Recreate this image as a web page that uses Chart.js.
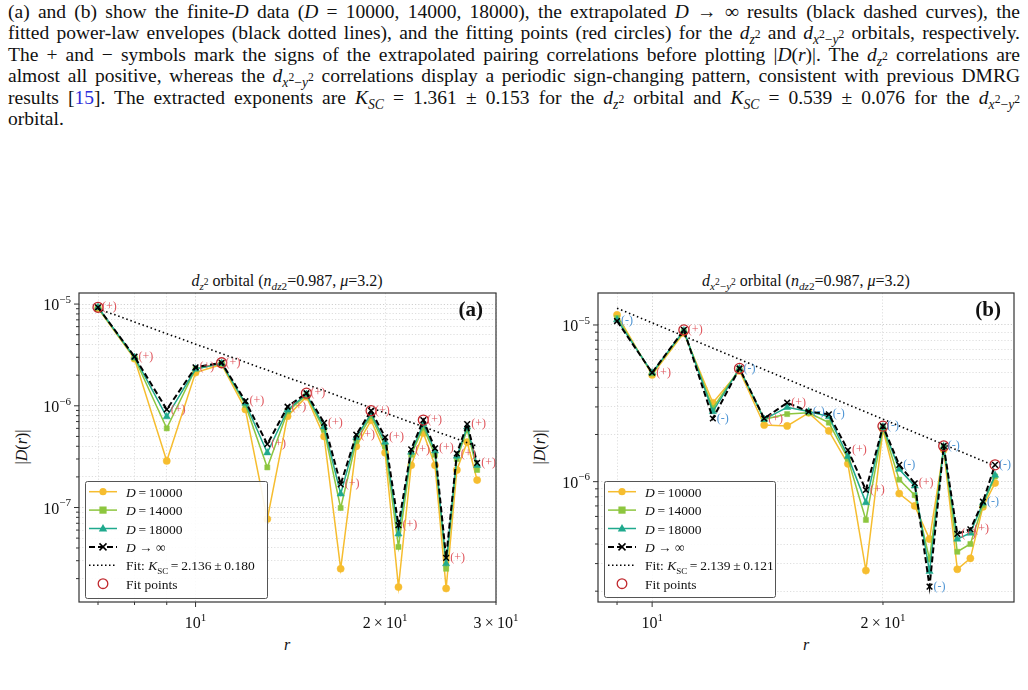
<!DOCTYPE html>
<html>
<head>
<meta charset="utf-8">
<script src="https://cdn.jsdelivr.net/npm/chart.js@4.4.1/dist/chart.umd.min.js"></script>
<style>
  body { margin: 0; background: #fff; width: 1028px; height: 690px; position: relative; overflow: hidden;
         font-family: 'Liberation Serif', 'Times New Roman', serif; color: #111; }
  #caption { position: absolute; left: 8px; top: 1px; width: 1012px; font-size: 19.5px; line-height: 21.4px; }
  #caption div { white-space: nowrap; text-align: justify; text-align-last: justify; }
  #caption div.last { text-align-last: left; }
  sub, sup { line-height: 0; font-size: 70%; }
  sub sup, sup sub { font-size: 85%; }
  .cv { position: absolute; top: 250px; }
  .ttl { position: absolute; top: 271px; width: 400px; text-align: center; font-size: 16px; line-height: 20px; white-space: nowrap; }
  .ylab { position: absolute; top: 437px; width: 80px; text-align: center; font-size: 16px; line-height: 20px; transform: rotate(-90deg); }
  .xlab { position: absolute; top: 635px; width: 40px; text-align: center; font-size: 16px; line-height: 20px; }
  .cite { color: #2b2bd9; }
</style>
</head>
<body>
<div id="caption">
  <div>(a) and (b) show the finite-<i>D</i> data (<i>D</i> = 10000, 14000, 18000), the extrapolated <i>D</i> → ∞ results (black dashed curves), the</div>
  <div>fitted power-law envelopes (black dotted lines), and the fitting points (red circles) for the <i>d</i><sub><i>z</i><sup>2</sup></sub> and <i>d</i><sub><i>x</i><sup>2</sup>−<i>y</i><sup>2</sup></sub> orbitals, respectively.</div>
  <div>The + and − symbols mark the signs of the extrapolated pairing correlations before plotting |<i>D</i>(<i>r</i>)|. The <i>d</i><sub><i>z</i><sup>2</sup></sub> correlations are</div>
  <div>almost all positive, whereas the <i>d</i><sub><i>x</i><sup>2</sup>−<i>y</i><sup>2</sup></sub> correlations display a periodic sign-changing pattern, consistent with previous DMRG</div>
  <div>results [<span class="cite">15</span>]. The extracted exponents are <i>K</i><sub><i>SC</i></sub> = 1.361 ± 0.153 for the <i>d</i><sub><i>z</i><sup>2</sup></sub> orbital and <i>K</i><sub><i>SC</i></sub> = 0.539 ± 0.076 for the <i>d</i><sub><i>x</i><sup>2</sup>−<i>y</i><sup>2</sup></sub></div>
  <div class="last">orbital.</div>
</div>

<div class="ttl" style="left:87px"><i>d</i><sub><i>z</i><sup>2</sup></sub> orbital (<i>n</i><sub><i>dz</i>2</sub>=0.987, <i>μ</i>=3.2)</div>
<div class="ttl" style="left:606px"><i>d</i><sub><i>x</i><sup>2</sup>−<i>y</i><sup>2</sup></sub> orbital (<i>n</i><sub><i>dz</i>2</sub>=0.987, <i>μ</i>=3.2)</div>
<div class="ylab" style="left:-18px">|<i>D</i>(<i>r</i>)|</div>
<div class="ylab" style="left:500px">|<i>D</i>(<i>r</i>)|</div>
<div class="xlab" style="left:267px"><i>r</i></div>
<div class="xlab" style="left:786px"><i>r</i></div>

<canvas id="chartA" class="cv" style="left:0px" width="540" height="400"></canvas>
<canvas id="chartB" class="cv" style="left:514px" width="514" height="400"></canvas>

<script>
const FONT = "'Liberation Serif', 'Times New Roman', serif";
const C10 = '#f6bd2f', C14 = '#8dc63f', C18 = '#1fa98d';
const FIT_RED = '#c0282d', SIGN_RED = '#e0555c', SIGN_BLUE = '#4d94d4';
const TS = '\u2009'; // espace fine

// ---- panel (a): d_z2 ----
const rA = [7, 8, 9, 10, 11, 12, 13, 14, 15, 16, 17, 18, 19, 20, 21, 22, 23, 24, 25, 26, 27, 28];
const a10000 = [9.1e-6, 2.9e-6, 2.87e-7, 2.12e-6, 2.55e-6, 9.2e-7, 7.7e-8, 7.9e-7, 1.23e-6, 5.0e-7, 2.5e-8,
                4.0e-7, 7.2e-7, 3.46e-7, 1.65e-8, 2.6e-7, 5.4e-7, 2.6e-7, 1.6e-8, 2.34e-7, 4.4e-7, 1.86e-7];
const a14000 = [9.2e-6, 2.95e-6, 6.0e-7, 2.3e-6, 2.6e-6, 1.02e-6, 2.48e-7, 8.8e-7, 1.27e-6, 5.8e-7, 9.9e-8,
                4.5e-7, 7.9e-7, 4.0e-7, 4.1e-8, 3.3e-7, 6.1e-7, 3.3e-7, 2.5e-8, 3.0e-7, 5.8e-7, 2.34e-7];
const a18000 = [9.3e-6, 3.0e-6, 7.8e-7, 2.3e-6, 2.62e-6, 1.06e-6, 3.45e-7, 9.1e-7, 1.3e-6, 6.2e-7, 1.36e-7,
                4.9e-7, 8.4e-7, 4.4e-7, 5.5e-8, 3.5e-7, 6.6e-7, 3.6e-7, 2.8e-8, 3.2e-7, 6.2e-7, 2.6e-7];
const aInf   = [9.3e-6, 3.04e-6, 9.2e-7, 2.39e-6, 2.65e-6, 1.11e-6, 4.2e-7, 9.8e-7, 1.33e-6, 6.8e-7, 1.69e-7,
                5.2e-7, 8.95e-7, 4.9e-7, 6.7e-8, 3.73e-7, 7.24e-7, 3.82e-7, 3.2e-8, 3.4e-7, 6.6e-7, 2.75e-7];
const aSigns = ['+', '+', '+', '+', '+', '+', '+', '+', '+', '+', '+', '+', '+', '+', '+', '+', '+', '+', '+', '+', '+', '+'];
const aFitR = [7, 11, 15, 19, 23];
const aFitLineR = [7, 28];
const aFitLineD = [9.0e-6, 4.0e-7];
const aXMajor = [10, 20, 30];
const aXLabels = ['10^{1}', '2' + TS + '×' + TS + '10^{1}', '3' + TS + '×' + TS + '10^{1}'];
const aXMinor = [7, 8, 9];
const aYMajor = [1e-7, 1e-6, 1e-5];
const aYLabels = ['10^{−7}', '10^{−6}', '10^{−5}'];
const aFitText = '2.136' + TS + '±' + TS + '0.180';

// ---- panel (b): d_x2-y2 ----
const rB = [9, 10, 11, 12, 13, 14, 15, 16, 17, 18, 19, 20, 21, 22, 23, 24, 25, 26, 27, 28];
const b10000 = [1.16e-5, 4.8e-6, 8.9e-6, 3.19e-6, 5.1e-6, 2.3e-6, 2.27e-6, 2.75e-6, 2.11e-6, 1.3e-6,
                2.71e-7, 2.15e-6, 8.4e-7, 7.0e-7, 4.3e-7, 1.6e-6, 2.76e-7, 3.24e-7, 6.9e-7, 9.8e-7];
const b14000 = [1.11e-5, 4.9e-6, 9.1e-6, 2.94e-6, 5.25e-6, 2.5e-6, 2.7e-6, 2.75e-6, 2.38e-6, 1.4e-6,
                5.7e-7, 2.2e-6, 1.03e-6, 8.2e-7, 3.2e-7, 1.66e-6, 3.57e-7, 4.0e-7, 7.1e-7, 1.08e-6];
const b18000 = [1.08e-5, 4.96e-6, 9.2e-6, 2.8e-6, 5.28e-6, 2.5e-6, 2.98e-6, 2.8e-6, 2.6e-6, 1.45e-6,
                7.35e-7, 2.24e-6, 1.2e-6, 9.4e-7, 2.67e-7, 1.67e-6, 4.3e-7, 4.7e-7, 7.3e-7, 1.1e-6];
const bInf   = [1.06e-5, 4.96e-6, 9.3e-6, 2.53e-6, 5.28e-6, 2.53e-6, 3.19e-6, 2.8e-6, 2.69e-6, 1.59e-6,
                8.85e-7, 2.26e-6, 1.28e-6, 9.77e-7, 2.14e-7, 1.69e-6, 4.64e-7, 4.97e-7, 7.45e-7, 1.28e-6];
const bSigns = ['-', '+', '+', '-', '-', '+', '+', '-', '-', '+', '+', '-', '-', '+', '-', '-', '+', '+', '-', '-'];
const bFitR = [11, 13, 20, 24, 28];
const bFitLineR = [9, 28];
const bFitLineD = [1.28e-5, 1.26e-6];
const bXMajor = [10, 20];
const bXLabels = ['10^{1}', '2' + TS + '×' + TS + '10^{1}'];
const bXMinor = [9];
const bYMajor = [1e-6, 1e-5];
const bYLabels = ['10^{−6}', '10^{−5}'];
const bFitText = '2.139' + TS + '±' + TS + '0.121';

// minor ticks on the log y axes (2..9 in every decade)
function minorTicks(decades) {
    const out = [];
    decades.forEach(d => { for (let k = 2; k <= 9; k++) out.push(k * d); });
    return out;
}

function pts(rs, vals) { return rs.map((r, i) => ({ x: r, y: vals[i] })); }

// texte enrichi: [texte, style] avec style r / i / sub / sup
function drawRich(ctx, parts, x, y, align, size) {
    const fontOf = s => (s === 'i' ? 'italic ' : '') + (s === 'sub' || s === 'sup' ? Math.round(size * 0.7) : size) + 'px ' + FONT;
    const dyOf = s => s === 'sub' ? size * 0.25 : (s === 'sup' ? -size * 0.45 : 0);
    let w = 0;
    parts.forEach(p => { ctx.font = fontOf(p[1]); w += ctx.measureText(p[0]).width; });
    let cx = align === 'right' ? x - w : (align === 'center' ? x - w / 2 : x);
    ctx.textAlign = 'left'; ctx.textBaseline = 'alphabetic';
    parts.forEach(p => { ctx.font = fontOf(p[1]); ctx.fillText(p[0], cx, y + dyOf(p[1])); cx += ctx.measureText(p[0]).width; });
}
function tickParts(lbl) {
    const m = lbl.match(/^(.*)\^\{(.*)\}$/);
    return m ? [[m[1], 'r'], [m[2], 'sup']] : [[lbl, 'r']];
}

function drawMarker(ctx, kind, x, y, color) {
    ctx.save();
    ctx.fillStyle = color; ctx.strokeStyle = color; ctx.setLineDash([]);
    if (kind === 'circle') { ctx.beginPath(); ctx.arc(x, y, 3.6, 0, Math.PI * 2); ctx.fill(); }
    else if (kind === 'rect') { ctx.fillRect(x - 3.6, y - 3.6, 7.2, 7.2); }
    else if (kind === 'triangle') { ctx.beginPath(); ctx.moveTo(x, y - 4.5); ctx.lineTo(x + 4.2, y + 3); ctx.lineTo(x - 4.2, y + 3); ctx.closePath(); ctx.fill(); }
    else if (kind === 'cross') { ctx.lineWidth = 1.5; ctx.beginPath(); ctx.moveTo(x - 3.5, y - 3.5); ctx.lineTo(x + 3.5, y + 3.5); ctx.moveTo(x + 3.5, y - 3.5); ctx.lineTo(x - 3.5, y + 3.5); ctx.stroke(); }
    else if (kind === 'ring') { ctx.lineWidth = 1.3; ctx.beginPath(); ctx.arc(x, y, 4.8, 0, Math.PI * 2); ctx.stroke(); }
    ctx.restore();
}

const decorPlugin = {
    id: 'decor',
    afterDatasetsDraw(chart, args, o) {
        const { ctx, scales: { x, y } } = chart;
        // signes (+)/(-) du D -> infini
        ctx.save();
        ctx.font = '12px ' + FONT; ctx.textBaseline = 'middle'; ctx.textAlign = 'left';
        o.r.forEach((r, i) => {
            ctx.fillStyle = o.signs[i] === '+' ? SIGN_RED : SIGN_BLUE;
            ctx.fillText(o.signs[i] === '+' ? '(+)' : '(-)', x.getPixelForValue(r) + 4, y.getPixelForValue(o.inf[i]));
        });
        ctx.restore();
    },
    afterDraw(chart, args, o) {
        const { ctx, chartArea: a, scales: { x, y } } = chart;
        ctx.save();
        // cadre
        ctx.strokeStyle = '#333'; ctx.lineWidth = 1.2;
        ctx.strokeRect(a.left, a.top, a.right - a.left, a.bottom - a.top);
        // ticks
        ctx.lineWidth = 1; ctx.strokeStyle = '#333'; ctx.fillStyle = '#111';
        const xt = o.xMajor.map((v, i) => ({ v, len: v === 10 ? 5 : 3, lbl: o.xLabels[i] }))
            .concat(o.xMinor.map(v => ({ v, len: 3 })));
        xt.forEach(t => {
            const px = x.getPixelForValue(t.v);
            ctx.beginPath(); ctx.moveTo(px, a.bottom); ctx.lineTo(px, a.bottom + t.len); ctx.stroke();
            if (t.lbl) drawRich(ctx, tickParts(t.lbl), px, a.bottom + 26, 'center', 16);
        });
        o.yMajor.forEach((v, i) => {
            const py = y.getPixelForValue(v);
            ctx.beginPath(); ctx.moveTo(a.left, py); ctx.lineTo(a.left - 5, py); ctx.stroke();
            drawRich(ctx, tickParts(o.yLabels[i]), a.left - 8, py + 6, 'right', 16);
        });
        o.yMinor.forEach(v => {
            if (v < y.min || v > y.max) return;
            const py = y.getPixelForValue(v);
            ctx.beginPath(); ctx.moveTo(a.left, py); ctx.lineTo(a.left - 3, py); ctx.stroke();
        });
        // étiquette du panneau
        ctx.font = 'bold 21px ' + FONT; ctx.textAlign = 'right'; ctx.textBaseline = 'middle';
        ctx.fillText(o.tag, a.right - 13, a.top + 18);
        // légende
        const bx = o.legend.x, by = o.legend.y, bw = o.legend.w, bh = o.legend.h;
        ctx.fillStyle = 'rgba(255,255,255,0.9)'; ctx.strokeStyle = '#555'; ctx.lineWidth = 1;
        ctx.beginPath(); ctx.roundRect(bx + 0.5, by + 0.5, bw, bh, 2); ctx.fill(); ctx.stroke();
        const items = [
            { color: C10, marker: 'circle', lw: 1.5, label: [['D', 'i'], [TS + '=' + TS + '10000', 'r']] },
            { color: C14, marker: 'rect', lw: 1.5, label: [['D', 'i'], [TS + '=' + TS + '14000', 'r']] },
            { color: C18, marker: 'triangle', lw: 1.5, label: [['D', 'i'], [TS + '=' + TS + '18000', 'r']] },
            { color: '#000', marker: 'cross', lw: 2, dash: [6, 3], label: [['D', 'i'], [' → ∞', 'r']] },
            { color: '#000', lw: 1.5, dash: [1.5, 2.5], label: [['Fit: ', 'r'], ['K', 'i'], ['SC', 'sub'], [TS + '=' + TS + o.fitText, 'r']] },
            { color: FIT_RED, marker: 'ring', label: [['Fit points', 'r']] }
        ];
        items.forEach((it, i) => {
            const ry = by + 10.7 + i * 18.4;
            if (it.lw) {
                ctx.save(); ctx.strokeStyle = it.color; ctx.lineWidth = it.lw; ctx.setLineDash(it.dash || []);
                ctx.beginPath(); ctx.moveTo(bx + 4, ry); ctx.lineTo(bx + 32, ry); ctx.stroke(); ctx.restore();
            }
            if (it.marker) drawMarker(ctx, it.marker, bx + 18, ry, it.color);
            ctx.fillStyle = '#111';
            drawRich(ctx, it.label, bx + 41, ry + 5, 'left', 13.5);
        });
        ctx.restore();
    }
};

function makePanel(id, p) {
    const fitPts = p.fitR.map(r => ({ x: r, y: p.inf[p.r.indexOf(r)] }));
    const yTicks = p.yMajor.map(v => ({ value: v, major: true })).concat(p.yMinor.map(v => ({ value: v, major: false })));
    const xTicks = p.xMajor.map(v => ({ value: v, major: v === 10 })).concat(p.xMinor.map(v => ({ value: v, major: false })));
    const colored = (label, vals, color, style, radius, order) => ({
        label, data: pts(p.r, vals), borderColor: color, backgroundColor: color, borderWidth: 1.5,
        pointStyle: style, pointRadius: radius, pointBackgroundColor: color, pointBorderColor: color,
        pointBorderWidth: 0.5, tension: 0, order
    });
    return new Chart(document.getElementById(id), {
        type: 'line',
        data: {
            datasets: [
                colored('D=10000', p.d10, C10, 'circle', 3.6, 6),
                colored('D=14000', p.d14, C14, 'rect', 3.6, 5),
                colored('D=18000', p.d18, C18, 'triangle', 4.2, 4),
                { label: 'D→∞', data: pts(p.r, p.inf), borderColor: '#000', backgroundColor: '#000', borderWidth: 2,
                  borderDash: [6, 3], pointStyle: 'crossRot', pointRadius: 4, pointBorderWidth: 1.5, pointBorderColor: '#000', tension: 0, order: 3 },
                { label: 'Fit', data: pts(p.fitLineR, p.fitLineD), borderColor: '#000', borderWidth: 1.6,
                  borderDash: [1.5, 2.8], pointRadius: 0, tension: 0, order: 2 },
                { label: 'Fit points', data: fitPts, showLine: false, pointStyle: 'circle', pointRadius: 5,
                  pointBorderColor: FIT_RED, pointBackgroundColor: 'rgba(0,0,0,0)', pointBorderWidth: 1.3, order: 1 }
            ]
        },
        options: {
            responsive: false, animation: false, events: [],
            layout: { padding: p.pad },
            plugins: {
                legend: { display: false }, tooltip: { enabled: false },
                decor: {
                    r: p.r, inf: p.inf, signs: p.signs, tag: p.tag, fitText: p.fitText, legend: p.legend,
                    xMajor: p.xMajor, xLabels: p.xLabels, xMinor: p.xMinor,
                    yMajor: p.yMajor, yLabels: p.yLabels, yMinor: p.yMinor
                }
            },
            scales: {
                x: {
                    type: 'logarithmic', min: p.xMin, max: p.xMax,
                    afterBuildTicks: s => { s.ticks = xTicks.map(t => ({ ...t })); },
                    ticks: { display: false },
                    grid: { drawTicks: false, lineWidth: 0.8, color: c => c.tick && c.tick.major ? '#c4c4c4' : '#d6d6d6' },
                    border: { display: false, dash: [1.2, 2] }
                },
                y: {
                    type: 'logarithmic', min: p.yMin, max: p.yMax,
                    afterBuildTicks: s => { s.ticks = yTicks.map(t => ({ ...t })); },
                    ticks: { display: false },
                    grid: { drawTicks: false, lineWidth: 0.8, color: c => c.tick && c.tick.major ? '#c4c4c4' : '#d6d6d6' },
                    border: { display: false, dash: [1.2, 2] }
                }
            }
        },
        plugins: [decorPlugin]
    });
}

makePanel('chartA', {
    r: rA, d10: a10000, d14: a14000, d18: a18000, inf: aInf, signs: aSigns,
    fitR: aFitR, fitLineR: aFitLineR, fitLineD: aFitLineD, fitText: aFitText, tag: '(a)',
    xMin: 6.53, xMax: 30.0, yMin: 1.178e-8, yMax: 1.285e-5,
    xMajor: aXMajor, xLabels: aXLabels, xMinor: aXMinor,
    yMajor: aYMajor, yLabels: aYLabels, yMinor: minorTicks([1e-8, 1e-7, 1e-6]),
    pad: { left: 79, top: 43, right: 44, bottom: 48 },
    legend: { x: 85, y: 231, w: 182, h: 117 }
});
makePanel('chartB', {
    r: rB, d10: b10000, d14: b14000, d18: b18000, inf: bInf, signs: bSigns,
    fitR: bFitR, fitLineR: bFitLineR, fitLineD: bFitLineD, fitText: bFitText, tag: '(b)',
    xMin: 8.50, xMax: 29.64, yMin: 1.706e-7, yMax: 1.60e-5,
    xMajor: bXMajor, xLabels: bXLabels, xMinor: bXMinor,
    yMajor: bYMajor, yLabels: bYLabels, yMinor: minorTicks([1e-7, 1e-6]),
    pad: { left: 84, top: 43, right: 14, bottom: 48 },
    legend: { x: 90, y: 231, w: 171, h: 116 }
});
</script>
</body>
</html>
